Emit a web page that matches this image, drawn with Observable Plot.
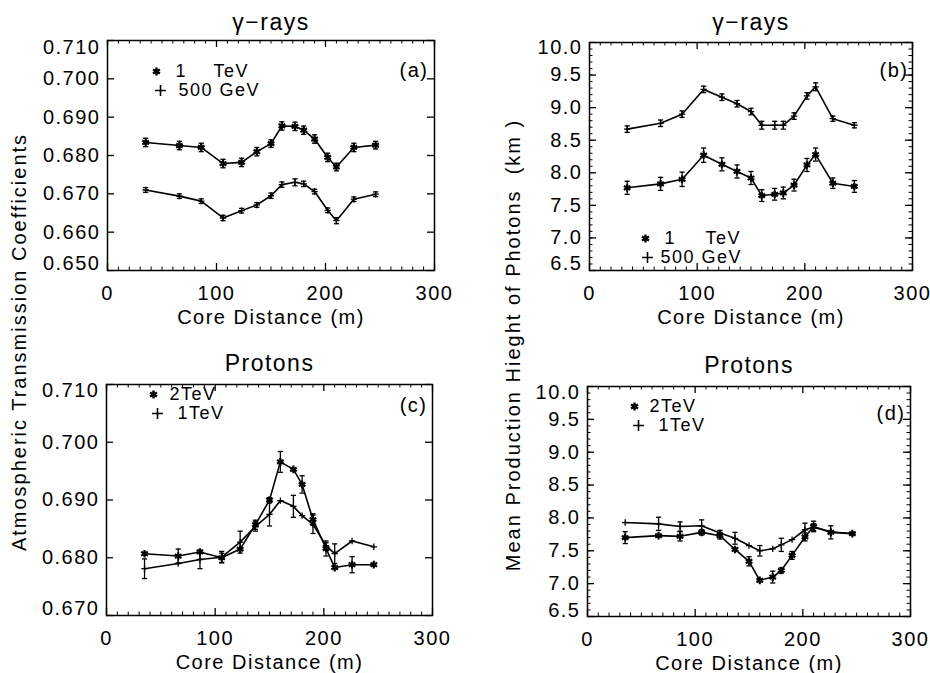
<!DOCTYPE html>
<html><head><meta charset="utf-8">
<script src="https://cdn.jsdelivr.net/npm/d3@7"></script>
<script src="https://cdn.jsdelivr.net/npm/@observablehq/plot@0.6"></script>
<style>
body{margin:0;background:#fff;}
#wrap{position:relative;width:930px;height:673px;overflow:hidden;background:#fff;font-family:"Liberation Sans",Arial,sans-serif;color:#000;}
.panel{position:absolute;}
#wrap svg text{letter-spacing:1.5px;}
.ytitle{position:absolute;font-size:20px;letter-spacing:2px;white-space:pre;transform:translate(-50%,-50%) rotate(-90deg);}
</style></head><body><div id="wrap"></div>
<script>
// Core distances (m) of the 15 sampling positions
const coreDistance = [35, 66, 86, 106, 123, 137, 150, 160, 172, 180, 190, 202, 210, 226, 246];

// (a) gamma-rays: atmospheric transmission coefficients
const gammaTrans1TeV   = [0.6834, 0.6826, 0.6821, 0.6779, 0.6782, 0.6810, 0.6831, 0.6877, 0.6876, 0.6866, 0.6843, 0.6795, 0.6770, 0.6821, 0.6827];
const gammaTrans1TeVErr = [0.0011, 0.0011, 0.0011, 0.0011, 0.0011, 0.0011, 0.0010, 0.0011, 0.0011, 0.0011, 0.0011, 0.0011, 0.0010, 0.0011, 0.0010];
const gammaTrans500GeV = [0.6710, 0.6694, 0.6681, 0.6637, 0.6656, 0.6671, 0.6695, 0.6724, 0.6730, 0.6726, 0.6706, 0.6657, 0.6630, 0.6686, 0.6699];
const gammaTrans500GeVErr = [0.0006, 0.0006, 0.0006, 0.0007, 0.0006, 0.0006, 0.0007, 0.0007, 0.0009, 0.0007, 0.0006, 0.0006, 0.0008, 0.0006, 0.0006];

// (b) gamma-rays: mean production height of photons (km)
const gammaHeight1TeV   = [7.77, 7.83, 7.90, 8.27, 8.13, 8.02, 7.92, 7.65, 7.67, 7.69, 7.81, 8.12, 8.28, 7.84, 7.79];
const gammaHeight1TeVErr = [0.10, 0.10, 0.11, 0.11, 0.10, 0.10, 0.10, 0.09, 0.09, 0.09, 0.09, 0.10, 0.10, 0.08, 0.09];
const gammaHeight500GeV = [8.67, 8.76, 8.90, 9.28, 9.16, 9.06, 8.94, 8.73, 8.73, 8.73, 8.87, 9.18, 9.32, 8.83, 8.73];
const gammaHeight500GeVErr = [0.05, 0.05, 0.05, 0.05, 0.05, 0.05, 0.05, 0.06, 0.06, 0.06, 0.05, 0.05, 0.06, 0.04, 0.04];

// (c) protons: atmospheric transmission coefficients
const protonTrans2TeV = [0.6807, 0.6803, 0.6810, 0.6800, 0.6815, 0.6857, 0.6900, 0.6966, 0.6953, 0.6927, 0.6866, 0.6816, 0.6783, 0.6788, 0.6788];
const protonTrans2TeVErr = [0.0003, 0.0012, 0.0003, 0.0008, 0.0003, 0.0008, 0.0004, 0.0018, 0.0003, 0.0015, 0.0010, 0.0013, 0.0003, 0.0014, 0.0003];
const protonTrans1TeV = [0.6781, 0.6790, 0.6797, 0.6801, 0.6827, 0.6854, 0.6875, 0.6899, 0.6889, 0.6873, 0.6858, 0.6821, 0.6807, 0.6829, 0.6819];
const protonTrans1TeVErr = [0.0017, 0.0003, 0.0016, 0.0010, 0.0019, 0.0008, 0.0020, 0.0003, 0.0019, 0.0003, 0.0016, 0.0005, 0.0017, 0.0003, 0.0002];

// (d) protons: mean production height (km)
const protonHeight2TeV = [7.70, 7.73, 7.72, 7.78, 7.73, 7.52, 7.34, 7.05, 7.10, 7.20, 7.43, 7.71, 7.87, 7.78, 7.76];
const protonHeight2TeVErr = [0.09, 0.03, 0.07, 0.04, 0.05, 0.03, 0.07, 0.03, 0.09, 0.04, 0.06, 0.06, 0.08, 0.10, 0.03];
const protonHeight1TeV = [7.93, 7.91, 7.87, 7.88, 7.77, 7.69, 7.58, 7.50, 7.53, 7.59, 7.67, 7.82, 7.86, 7.79, 7.76];
const protonHeight1TeVErr = [0.02, 0.10, 0.07, 0.09, 0.04, 0.09, 0.03, 0.08, 0.03, 0.10, 0.03, 0.10, 0.05, 0.03, 0.02];

// Tick labels
const xTicks = [0, 100, 200, 300];
const transTicksGamma = [0.650, 0.660, 0.670, 0.680, 0.690, 0.700, 0.710];
const transTicksProton = [0.670, 0.680, 0.690, 0.700, 0.710];
const heightTicks = [6.5, 7.0, 7.5, 8.0, 8.5, 9.0, 9.5, 10.0];
const xLabel = "Core Distance (m)";

const capSymbol = {draw(ctx, size) { const r = Math.sqrt(size / Math.PI); ctx.moveTo(-r, 0); ctx.lineTo(r, 0); }};
const FONT = '"Liberation Sans", Arial, sans-serif';

function rows(vals, errs) { return coreDistance.map((x, i) => ({x, y: vals[i], e: errs[i]})); }

function panel(cfg) {
  const {left, top, width, height, mt, mr, mb, ml, yDomain, yTicks, yMinorStep, yFormat, endDy,
         title, titleDy, tag, tagDx, tagDy, series, legend} = cfg;
  const innerW = width - ml - mr, innerH = height - mt - mb;
  const xMinor = d3.range(0, 301, 10).filter(v => v % 100 !== 0);
  const yMinor = yMinorStep ? d3.range(Math.round((yDomain[1] - yDomain[0]) / yMinorStep) + 1)
      .map(i => +(yDomain[0] + i * yMinorStep).toFixed(4)) : [];
  const yInner = yTicks.slice(1, -1);
  const marks = [
    Plot.frame({strokeWidth: 1.5}),
    Plot.tickX(xTicks, {x: d => d, insetTop: innerH - 7, strokeWidth: 1.3}),
    Plot.tickX(xTicks, {x: d => d, insetBottom: innerH - 7, strokeWidth: 1.3}),
    Plot.tickX(xMinor, {x: d => d, insetTop: innerH - 3.5, strokeWidth: 1}),
    Plot.tickX(xMinor, {x: d => d, insetBottom: innerH - 3.5, strokeWidth: 1}),
    Plot.tickY(yTicks, {y: d => d, insetRight: innerW - 7, strokeWidth: 1.3}),
    Plot.tickY(yTicks, {y: d => d, insetLeft: innerW - 7, strokeWidth: 1.3}),
    Plot.tickY(yMinor, {y: d => d, insetRight: innerW - 3.5, strokeWidth: 1}),
    Plot.tickY(yMinor, {y: d => d, insetLeft: innerW - 3.5, strokeWidth: 1}),
    Plot.axisX({ticks: xTicks, tickSize: 0, tickPadding: 15, tickFormat: d => String(d), label: null}),
    Plot.axisY({ticks: yInner, tickSize: 0, tickPadding: 7, tickFormat: yFormat, label: null}),
    Plot.axisY({ticks: [yTicks[yTicks.length - 1]], tickSize: 0, tickPadding: 7, tickFormat: yFormat, label: null, dy: endDy[0]}),
    Plot.axisY({ticks: [yTicks[0]], tickSize: 0, tickPadding: 7, tickFormat: yFormat, label: null, dy: endDy[1]}),
    Plot.text([xLabel], {frameAnchor: "bottom", dy: 47, lineAnchor: "middle", fontSize: 20}),
    Plot.text([title], {frameAnchor: "top", dy: titleDy, lineAnchor: "middle", fontSize: 23}),
    Plot.text([tag], {frameAnchor: "top-right", dx: tagDx, dy: tagDy, textAnchor: "end", lineAnchor: "middle", fontSize: 20})
  ];
  for (const s of series) {
    const data = rows(s.values, s.errors);
    const eb = data.filter(d => d.e >= s.minErr);
    marks.push(
      Plot.line(data, {x: "x", y: "y", stroke: "black", strokeWidth: 1.6}),
      Plot.ruleX(eb, {x: "x", y1: d => d.y - d.e, y2: d => d.y + d.e, stroke: "black", strokeWidth: 1.3}),
      Plot.dot(eb, {x: "x", y: d => d.y + d.e, symbol: capSymbol, r: 2.6, fill: "none", stroke: "black", strokeWidth: 1.3}),
      Plot.dot(eb, {x: "x", y: d => d.y - d.e, symbol: capSymbol, r: 2.6, fill: "none", stroke: "black", strokeWidth: 1.3}),
      s.star
        ? Plot.dot(data, {x: "x", y: "y", symbol: "asterisk", r: 3.6, stroke: "black", strokeWidth: 2.2})
        : Plot.dot(data, {x: "x", y: "y", symbol: "plus", r: 2.2, stroke: "black", strokeWidth: 1.3})
    );
  }
  for (const l of legend) {
    marks.push(
      l.star
        ? Plot.dot([l.text], {frameAnchor: "top-left", dx: l.mx, dy: l.my, symbol: "asterisk", r: 3.8, stroke: "black", strokeWidth: 2.4})
        : Plot.dot([l.text], {frameAnchor: "top-left", dx: l.mx, dy: l.my, symbol: "plus", r: 3.6, stroke: "black", strokeWidth: 1.6})
    );
    for (const p of l.parts) {
      marks.push(Plot.text([p.t], {frameAnchor: "top-left", dx: p.x, dy: l.my, textAnchor: "start", lineAnchor: "middle", fontSize: 18}));
    }
  }
  const svg = Plot.plot({
    width, height, marginTop: mt, marginRight: mr, marginBottom: mb, marginLeft: ml,
    x: {domain: [0, 300], axis: null},
    y: {domain: yDomain, axis: null},
    style: {fontSize: "20px", fontFamily: FONT, color: "black", background: "white", overflow: "visible"},
    marks
  });
  const div = document.createElement("div");
  div.className = "panel";
  div.style.left = left + "px"; div.style.top = top + "px";
  div.appendChild(svg);
  document.getElementById("wrap").appendChild(div);
}

panel({left: 0, top: 0, width: 465, height: 330, mt: 40, mr: 31, mb: 60, ml: 107,
  yDomain: [0.650, 0.710], yTicks: transTicksGamma, yMinorStep: 0, yFormat: d3.format(".3f"), endDy: [7, -7],
  title: "γ−rays", titleDy: -18, tag: "(a)", tagDx: -6, tagDy: 30,
  series: [
    {values: gammaTrans1TeV, errors: gammaTrans1TeVErr, star: true, minErr: 0},
    {values: gammaTrans500GeV, errors: gammaTrans500GeVErr, star: false, minErr: 0}
  ],
  legend: [
    {star: true, text: "1 TeV", mx: 49, my: 31, parts: [{t: "1", x: 68}, {t: "TeV", x: 106}]},
    {star: false, text: "500 GeV", mx: 53, my: 50, parts: [{t: "500 GeV", x: 71}]}
  ]});

panel({left: 465, top: 0, width: 465, height: 330, mt: 42, mr: 18, mb: 60, ml: 124,
  yDomain: [6.5, 10.0], yTicks: heightTicks, yMinorStep: 0.1, yFormat: d3.format(".1f"), endDy: [5, -7],
  title: "γ−rays", titleDy: -20, tag: "(b)", tagDx: -4, tagDy: 28,
  series: [
    {values: gammaHeight500GeV, errors: gammaHeight500GeVErr, star: false, minErr: 0},
    {values: gammaHeight1TeV, errors: gammaHeight1TeVErr, star: true, minErr: 0}
  ],
  legend: [
    {star: true, text: "1 TeV", mx: 56, my: 196, parts: [{t: "1", x: 75}, {t: "TeV", x: 116}]},
    {star: false, text: "500 GeV", mx: 58, my: 215, parts: [{t: "500 GeV", x: 71}]}
  ]});

panel({left: 0, top: 330, width: 465, height: 343, mt: 54, mr: 33, mb: 58, ml: 106,
  yDomain: [0.670, 0.710], yTicks: transTicksProton, yMinorStep: 0, yFormat: d3.format(".3f"), endDy: [6, -7],
  title: "Protons", titleDy: -21, tag: "(c)", tagDx: -5, tagDy: 21,
  series: [
    {values: protonTrans2TeV, errors: protonTrans2TeVErr, star: true, minErr: 0.0004},
    {values: protonTrans1TeV, errors: protonTrans1TeVErr, star: false, minErr: 0.0004}
  ],
  legend: [
    {star: true, text: "2TeV", mx: 47, my: 10, parts: [{t: "2TeV", x: 63}]},
    {star: false, text: "1TeV", mx: 51, my: 29, parts: [{t: "1TeV", x: 71}]}
  ]});

panel({left: 465, top: 330, width: 465, height: 343, mt: 56, mr: 20, mb: 57, ml: 122,
  yDomain: [6.5, 10.0], yTicks: heightTicks, yMinorStep: 0.1, yFormat: d3.format(".1f"), endDy: [6, -6],
  title: "Protons", titleDy: -21, tag: "(d)", tagDx: -5, tagDy: 27,
  series: [
    {values: protonHeight2TeV, errors: protonHeight2TeVErr, star: true, minErr: 0.04},
    {values: protonHeight1TeV, errors: protonHeight1TeVErr, star: false, minErr: 0.04}
  ],
  legend: [
    {star: true, text: "2TeV", mx: 47, my: 20, parts: [{t: "2TeV", x: 62}]},
    {star: false, text: "1TeV", mx: 51, my: 39, parts: [{t: "1TeV", x: 71}]}
  ]});

const wrap = document.getElementById("wrap");
const t1 = document.createElement("div");
t1.className = "ytitle"; t1.style.left = "19px"; t1.style.top = "342px";
t1.textContent = "Atmospheric Transmission Coefficients";
wrap.appendChild(t1);
const t2 = document.createElement("div");
t2.className = "ytitle"; t2.style.left = "513px"; t2.style.top = "345px";
t2.textContent = "Mean Production Hieght of Photons  (km )";
wrap.appendChild(t2);
</script></body></html>
